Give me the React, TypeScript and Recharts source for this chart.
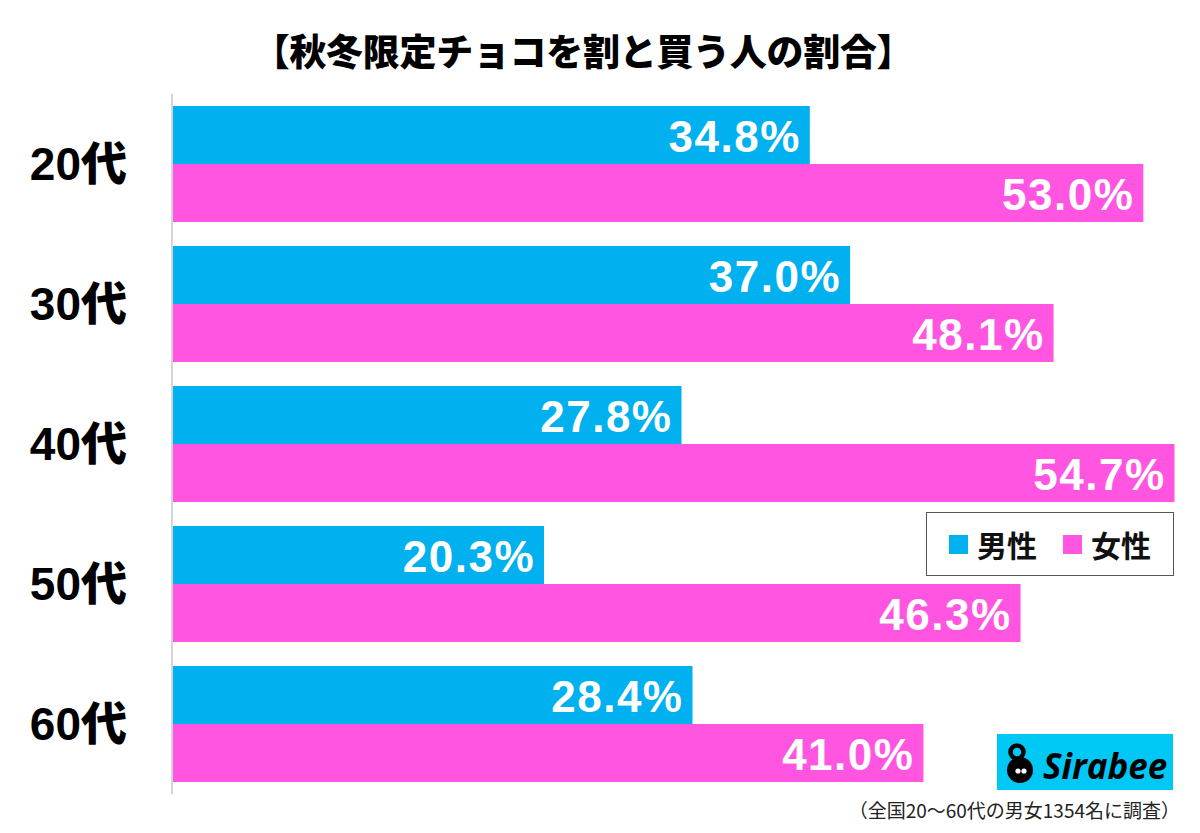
import React from "react";
import { Bar, BarChart, LabelList, XAxis, YAxis } from "recharts";

const ages = ["20代", "30代", "40代", "50代", "60代"];
const male = [34.8, 37.0, 27.8, 20.3, 28.4];
const female = [53.0, 48.1, 54.7, 46.3, 41.0];

const MALE_COLOR = "#00b0ef";
const FEMALE_COLOR = "#ff55e1";
const JP = '"Noto Sans CJK JP", "Liberation Sans", sans-serif';
const NUM = '"Liberation Sans", "Noto Sans CJK JP", sans-serif';

const data = ages.map((age, i) => ({ age, male: male[i], female: female[i] }));

function AgeTick({ x, y, payload }: any) {
  return (
    <text
      x={x - 45}
      y={y}
      textAnchor="end"
      dominantBaseline="central"
      fontSize={46}
      fontWeight={900}
      fontFamily={NUM}
      fill="#000"
    >
      {payload.value}
    </text>
  );
}

function BarValue({ x, y, width, height, value }: any) {
  return (
    <text
      x={x + width - 9}
      y={y + height / 2 + 1}
      textAnchor="end"
      dominantBaseline="central"
      fontSize={44}
      fontWeight="bold"
      fontFamily={NUM}
      letterSpacing={1.5}
      fill="#fff"
    >
      {Number(value).toFixed(1)}%
    </text>
  );
}

// legend drawn outside the chart so it doesn't eat into the plot height
function LegendBox() {
  const item = (color: string, label: string) => (
    <div style={{ display: "flex", alignItems: "center", gap: 9 }}>
      <span style={{ width: 19, height: 19, background: color, display: "inline-block" }} />
      <span style={{ fontSize: 30, fontWeight: 700, fontFamily: JP, color: "#111", lineHeight: 1 }}>{label}</span>
    </div>
  );
  return (
    <div
      style={{
        position: "absolute",
        left: 926,
        top: 512,
        boxSizing: "border-box",
        width: 248,
        height: 64,
        border: "1.5px solid #555",
        display: "flex",
        alignItems: "center",
        justifyContent: "center",
        gap: 26,
        background: "#fff",
      }}
    >
      {item(MALE_COLOR, "男性")}
      {item(FEMALE_COLOR, "女性")}
    </div>
  );
}

function SirabeeLogo() {
  return (
    <svg width={176} height={56} style={{ position: "absolute", left: 997, top: 734 }}>
      <rect width={176} height={56} fill="#00c8f5" />
      <circle cx={23} cy={36} r={13} fill="#000" />
      <circle cx={20} cy={18} r={6.5} fill="none" stroke="#000" strokeWidth={4.5} />
      <circle cx={21} cy={37} r={2.6} fill="#fff" />
      <circle cx={27} cy={37} r={2.6} fill="#fff" />
      <text
        x={46}
        y={45}
        fontSize={35}
        fontWeight="bold"
        fontStyle="italic"
        fontFamily='"Open Sans", "Liberation Sans", sans-serif'
        fill="#000"
      >
        Sirabee
      </text>
    </svg>
  );
}

export default function App() {
  return (
    <div style={{ position: "absolute", left: 0, top: 0, width: 1200, height: 833, background: "#fff" }}>
      <div
        style={{
          position: "absolute",
          left: 0,
          width: 1166,
          top: 27,
          textAlign: "center",
          fontSize: 37,
          fontWeight: 900,
          fontFamily: JP,
          letterSpacing: -0.3,
          color: "#000",
          lineHeight: "46px",
        }}
      >
        【秋冬限定チョコを割と買う人の割合】
      </div>
      <BarChart
        width={1200}
        height={833}
        data={data}
        layout="vertical"
        margin={{ top: 94, right: 20, bottom: 39, left: 0 }}
        barCategoryGap={12}
        barGap={0}
      >
        <XAxis type="number" domain={[0, 55]} hide />
        <YAxis
          type="category"
          dataKey="age"
          width={172}
          tickLine={false}
          tickSize={0}
          tickMargin={0}
          axisLine={{ stroke: "#d4d4d4", strokeWidth: 2 }}
          tick={<AgeTick />}
        />
        <Bar dataKey="male" name="男性" fill={MALE_COLOR} isAnimationActive={false}>
          <LabelList dataKey="male" content={<BarValue />} />
        </Bar>
        <Bar dataKey="female" name="女性" fill={FEMALE_COLOR} isAnimationActive={false}>
          <LabelList dataKey="female" content={<BarValue />} />
        </Bar>
      </BarChart>
      <LegendBox />
      <SirabeeLogo />
      <div
        style={{
          position: "absolute",
          right: 20,
          top: 797,
          fontSize: 19,
          fontFamily: JP,
          color: "#222",
          lineHeight: "26px",
        }}
      >
        （全国20〜60代の男女1354名に調査）
      </div>
    </div>
  );
}
